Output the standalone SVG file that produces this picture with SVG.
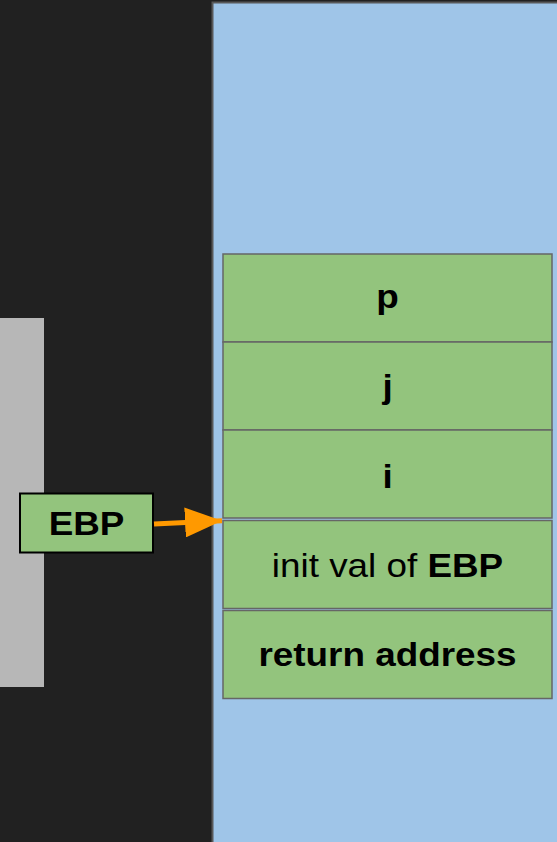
<svg xmlns="http://www.w3.org/2000/svg" width="557" height="842" viewBox="0 0 557 842">
  <style>
    .cell { fill: #93c47d; stroke: #666666; stroke-width: 1.5; }
    .lbl { font-family: "Liberation Sans", Arial, sans-serif; font-size: 33.5px; fill: #000000; text-anchor: middle; }
    .b { font-weight: bold; }
  </style>
  <defs>
    <marker id="ah" viewBox="0 0 10 10" refX="10" refY="5" markerWidth="7.4" markerHeight="6" markerUnits="strokeWidth" orient="auto" preserveAspectRatio="none">
      <path d="M0,0 L10,5 L0,10 Z" fill="#ff9900"/>
    </marker>
  </defs>
  <rect x="0" y="0" width="557" height="842" fill="#212121"/>
  <rect x="0" y="318" width="44" height="369" fill="#b7b7b7"/>
  <rect x="212.5" y="2.5" width="360" height="860" fill="#9fc5e8" stroke="#595959" stroke-width="2"/>

  <g id="cell-p">
    <rect class="cell" x="223" y="254" width="329" height="88"/>
    <text class="lbl b" transform="translate(387.5,308) scale(1.1,1)">p</text>
  </g>
  <g id="cell-j">
    <rect class="cell" x="223" y="342" width="329" height="88"/>
    <text class="lbl b" transform="translate(387.5,398) scale(1.1,1)">j</text>
  </g>
  <g id="cell-i">
    <rect class="cell" x="223" y="430" width="329" height="88"/>
    <text class="lbl b" transform="translate(387.5,488) scale(1.1,1)">i</text>
  </g>
  <g id="cell-init">
    <rect class="cell" x="223" y="520.5" width="329" height="88"/>
    <text class="lbl" transform="translate(387.5,577.3) scale(1.1,1)">init val of <tspan class="b">EBP</tspan></text>
  </g>
  <g id="cell-ret">
    <rect class="cell" x="223" y="610.5" width="329" height="88"/>
    <text class="lbl b" transform="translate(387.5,666) scale(1.1,1)">return address</text>
  </g>
  <g id="ebp">
    <rect x="20" y="493.5" width="133" height="59" fill="#93c47d" stroke="#000000" stroke-width="2"/>
    <text class="lbl b" transform="translate(86.5,535) scale(1.1,1)">EBP</text>
  </g>
  <g id="connectors">
    <line x1="154" y1="524" x2="222" y2="520.7" stroke="#ff9900" stroke-width="5" marker-end="url(#ah)"/>
  </g>
</svg>
